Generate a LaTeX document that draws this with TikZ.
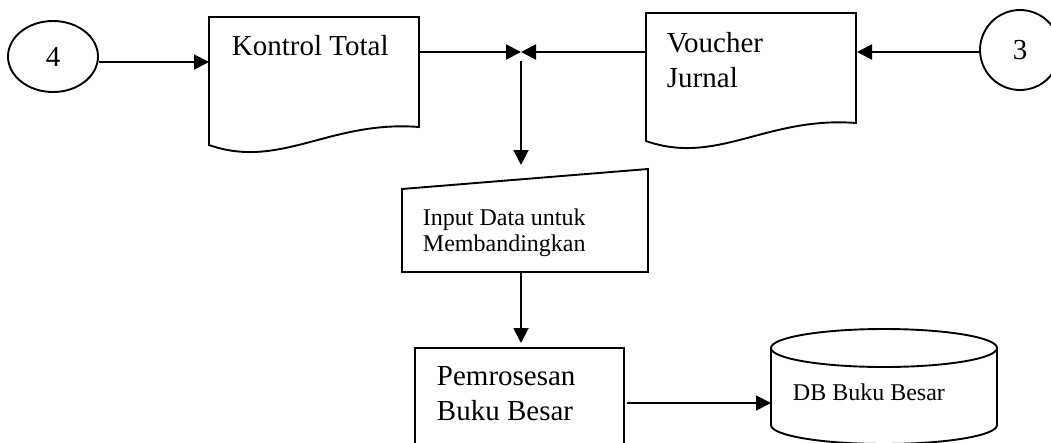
\documentclass[tikz,border=0pt]{standalone}
\usepackage{fontspec}
\setmainfont{Liberation Serif}
\usetikzlibrary{arrows.meta,shapes.geometric}
\newcommand\txtL{\fontsize{29}{35}\selectfont}
\newcommand\txtS{\fontsize{24}{26}\selectfont}
\tikzset{
  pics/paperdoc/.style={code={
    \draw (0,0) -- (210,0) -- (210,110)
      .. controls (121,103) and (71,153) .. (0,128) -- cycle;
  }},
}
\begin{document}
\begin{tikzpicture}[x=1pt,y=-1pt,
  line width=1.9pt,
  flow/.style={-{Triangle[length=15pt,width=15pt]}},
  connector/.style={draw, ellipse, inner sep=0pt, font=\txtL},
  lbl/.style={anchor=base west, inner sep=0pt, align=left},
]
\useasboundingbox (0,0) rectangle (1051,442);

% off-page connectors
\node[connector, minimum width=90pt, minimum height=71pt] (c4) at (53,56.5) {4};
\node[connector, minimum width=80pt, minimum height=80pt] (c3) at (1020,50) {3};

% documents (labels are placed by the baseline of their last line)
\pic at (209,17) {paperdoc};
\node[lbl, font=\txtL] (kt) at (231,55) {Kontrol Total};
\pic at (646,13) {paperdoc};
\node[lbl, font=\txtL] (vj) at (666,87) {Voucher\\Jurnal};

% manual input
\draw (402,189) -- (648,169) -- (648,272) -- (402,272) -- cycle;
\node[lbl, font=\txtS] (mi) at (422,251) {Input Data untuk\\Membandingkan};

% process
\node[draw, minimum width=209pt, minimum height=100pt, anchor=north west, inner sep=0pt] (pb) at (414,347) {};
\node[lbl, font=\txtL] (pbt) at (436,420) {Pemrosesan\\Buku Besar};

% database
\draw (884,348) ellipse [x radius=113, y radius=19];
\draw (771,348) -- (771,425) arc [start angle=180, end angle=0, x radius=113, y radius=19] -- (997,348);
\node[lbl, font=\txtS] (db) at (792,400) {DB Buku Besar};

% connection points
\coordinate (kt-w) at (209,62);
\coordinate (kt-e) at (419,52);
\coordinate (jn) at (521,52);
\coordinate (jn-s) at (521,61);
\coordinate (mi-n) at (521,165);
\coordinate (vj-w) at (646,52);
\coordinate (vj-e) at (857,52);
\coordinate (mi-s) at (521,272);
\coordinate (pb-n) at (521,343);
\coordinate (pb-e) at (627,403);
\coordinate (db-w) at (771,403);

% flow lines
\draw[flow] (c4.east |- kt-w) -- (kt-w);
\draw[flow] (kt-e) -- (jn);
\draw[flow] (vj-w) -- (jn);
\draw[flow] (jn-s) -- (mi-n);
\draw[flow] (c3.west |- vj-e) -- (vj-e);
\draw[flow] (mi-s) -- (pb-n);
\draw[flow] (pb-e) -- (db-w);
\end{tikzpicture}
\end{document}
